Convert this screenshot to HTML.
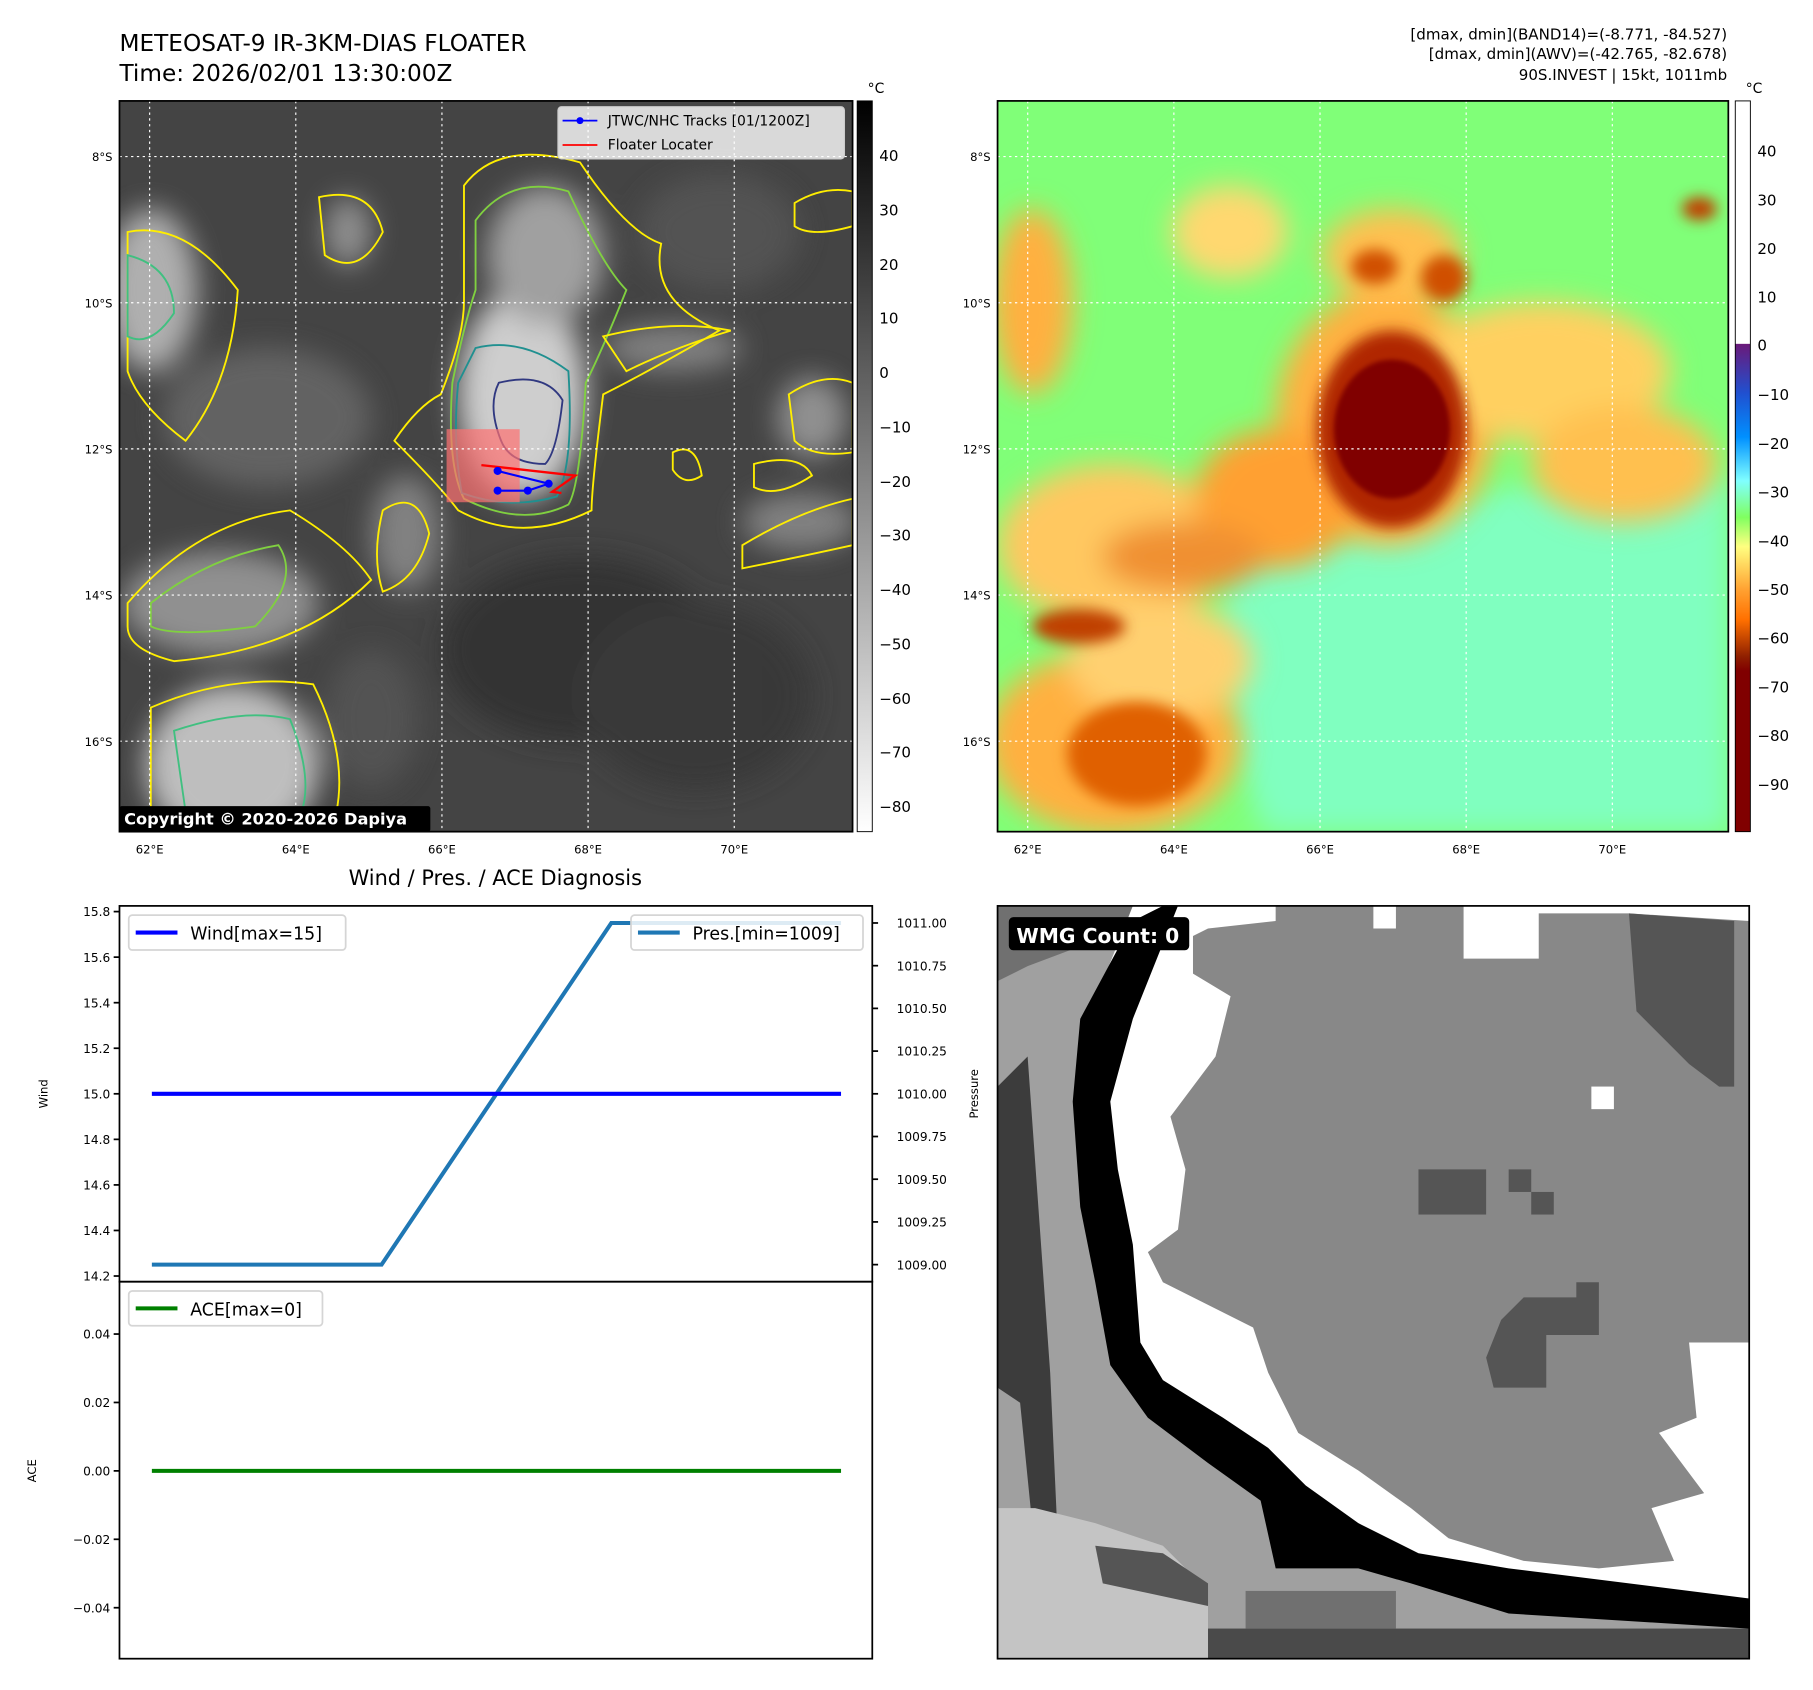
<!DOCTYPE html>
<html><head><meta charset="utf-8"><style>
html,body{margin:0;padding:0;background:#fff;}
svg{display:block;font-family:"DejaVu Sans","Liberation Sans",sans-serif;}
</style></head><body>
<svg id="root" width="1813" height="1690" viewBox="0 0 1563 1457" preserveAspectRatio="none" xmlns="http://www.w3.org/2000/svg">
<defs>
<filter id="b6" x="-50%" y="-50%" width="200%" height="200%"><feGaussianBlur stdDeviation="6"/></filter>
<filter id="b12" x="-50%" y="-50%" width="200%" height="200%"><feGaussianBlur stdDeviation="12"/></filter>
<filter id="b3"><feGaussianBlur stdDeviation="2"/></filter>
<clipPath id="c1"><rect x="103" y="87" width="632" height="630"/></clipPath>
<clipPath id="c2"><rect x="860" y="87" width="630" height="630"/></clipPath>
<linearGradient id="g1" x1="0" y1="0" x2="0" y2="1"><stop offset="0" stop-color="#000"/><stop offset="1" stop-color="#fff"/></linearGradient>
<linearGradient id="g2" x1="0" y1="0" x2="0" y2="1">
<stop offset="0" stop-color="#fff"/><stop offset="0.332" stop-color="#fff"/><stop offset="0.333" stop-color="#6a1a7a"/>
<stop offset="0.40" stop-color="#2050d0"/><stop offset="0.46" stop-color="#0090ff"/><stop offset="0.52" stop-color="#80ffff"/>
<stop offset="0.57" stop-color="#80ff60"/><stop offset="0.61" stop-color="#ffff80"/><stop offset="0.67" stop-color="#ffa030"/>
<stop offset="0.71" stop-color="#ff7000"/><stop offset="0.76" stop-color="#902000"/><stop offset="0.78" stop-color="#800000"/><stop offset="1" stop-color="#800000"/>
</linearGradient>
</defs>

<text x="103" y="44" font-size="20">METEOSAT-9 IR-3KM-DIAS FLOATER</text>
<text x="103" y="70" font-size="20">Time: 2026/02/01 13:30:00Z</text>
<g font-size="13" text-anchor="end">
<text x="1489" y="34">[dmax, dmin](BAND14)=(-8.771, -84.527)</text>
<text x="1489" y="51">[dmax, dmin](AWV)=(-42.765, -82.678)</text>
<text x="1489" y="69">90S.INVEST | 15kt, 1011mb</text>
</g>

<!-- IR map -->
<g clip-path="url(#c1)">
<rect x="103" y="87" width="632" height="630" fill="#444"/>
<g filter="url(#b12)" opacity="0.9">
<ellipse cx="450" cy="340" rx="55" ry="90" fill="#ddd"/>
<ellipse cx="470" cy="220" rx="50" ry="60" fill="#aaa"/>
<ellipse cx="130" cy="250" rx="40" ry="70" fill="#bbb"/>
<ellipse cx="300" cy="200" rx="20" ry="30" fill="#999"/>
<ellipse cx="200" cy="660" rx="75" ry="70" fill="#ccc"/>
<ellipse cx="190" cy="520" rx="85" ry="45" fill="#999"/>
<ellipse cx="580" cy="300" rx="60" ry="20" fill="#888"/>
<ellipse cx="690" cy="450" rx="50" ry="25" fill="#888"/>
<ellipse cx="700" cy="360" rx="30" ry="35" fill="#999"/>
<ellipse cx="230" cy="360" rx="90" ry="60" fill="#666"/>
<ellipse cx="350" cy="460" rx="30" ry="50" fill="#888"/>
<ellipse cx="500" cy="560" rx="120" ry="80" fill="#333"/>
<ellipse cx="600" cy="600" rx="100" ry="80" fill="#383838"/>
<ellipse cx="620" cy="200" rx="70" ry="50" fill="#555"/>
<ellipse cx="320" cy="620" rx="40" ry="60" fill="#555"/>
</g>
<g fill="none" stroke-width="1.6">
<path d="M400,160 Q430,120 500,140 Q540,200 570,210 Q560,260 620,285 Q560,320 520,340 Q510,420 510,440 Q450,470 395,440 Q380,420 340,380 Q360,350 380,340 Q400,290 400,260 Z" stroke="#ffee00"/>
<path d="M410,190 Q440,150 490,165 Q520,230 540,250 Q520,300 505,330 Q500,420 490,435 Q450,455 400,430 Q385,400 390,330 Q400,280 410,250 Z" stroke="#80d040"/>
<path d="M410,300 Q450,290 490,320 Q495,400 480,428 Q440,440 398,425 Q390,380 395,330 Z" stroke="#209090"/>
<path d="M430,330 Q470,320 485,345 Q480,390 470,400 Q440,400 432,380 Q420,350 430,330 Z" stroke="#303880"/>
<path d="M110,200 Q160,190 205,250 Q200,330 160,380 Q120,350 110,320 Z" stroke="#ffee00"/>
<path d="M110,220 Q150,230 150,270 Q130,300 110,290 Z" stroke="#40c080"/>
<path d="M275,170 Q320,160 330,200 Q310,240 280,220 Z" stroke="#ffee00"/>
<path d="M110,520 Q170,450 250,440 Q300,470 320,500 Q260,560 150,570 Q110,560 110,540 Z" stroke="#ffee00"/>
<path d="M130,520 Q180,480 240,470 Q260,500 220,540 Q150,550 130,540 Z" stroke="#80d040"/>
<path d="M130,610 Q200,580 270,590 Q300,650 290,700 L130,700 Z" stroke="#ffee00"/>
<path d="M150,630 Q210,610 250,620 Q270,670 260,700 L160,700 Z" stroke="#40c080"/>
<path d="M640,470 Q690,440 735,430 L735,470 Q690,480 640,490 Z" stroke="#ffee00"/>
<path d="M680,340 Q710,320 735,330 L735,390 Q700,395 685,380 Z" stroke="#ffee00"/>
<path d="M685,175 Q710,160 735,165 L735,195 Q700,205 685,195 Z" stroke="#ffee00"/>
<path d="M330,440 Q360,420 370,460 Q360,500 330,510 Q320,480 330,440 Z" stroke="#ffee00"/>
<path d="M520,290 Q580,275 630,285 Q580,300 540,320 Z" stroke="#ffee00"/>
<path d="M580,390 Q600,380 605,410 Q590,420 580,405 Z" stroke="#ffee00"/>
<path d="M650,400 Q690,390 700,410 Q670,430 650,420 Z" stroke="#ffee00"/>
</g>
<rect x="385" y="370" width="63" height="63" fill="#ff7070" opacity="0.7"/>
<g stroke="#fff" stroke-width="1" stroke-dasharray="2,3">
<line x1="129" y1="87" x2="129" y2="717"/><line x1="255" y1="87" x2="255" y2="717"/><line x1="381" y1="87" x2="381" y2="717"/><line x1="507" y1="87" x2="507" y2="717"/><line x1="633" y1="87" x2="633" y2="717"/>
<line x1="103" y1="135" x2="735" y2="135"/><line x1="103" y1="261" x2="735" y2="261"/><line x1="103" y1="387" x2="735" y2="387"/><line x1="103" y1="513" x2="735" y2="513"/><line x1="103" y1="639" x2="735" y2="639"/>
</g>
<polyline points="415,401 496,410 476,424 484,425" fill="none" stroke="#f00" stroke-width="2"/>
<polyline points="429,406 473,417 455,423 429,423" fill="none" stroke="#00f" stroke-width="1.8"/>
<g fill="#00f"><circle cx="429" cy="406" r="3.5"/><circle cx="473" cy="417" r="3.5"/><circle cx="455" cy="423" r="3.5"/><circle cx="429" cy="423" r="3.5"/></g>
<g>
<rect x="481" y="92" width="247" height="45" rx="3" fill="#fff" fill-opacity="0.8" stroke="#ccc"/>
<line x1="485" y1="104" x2="515" y2="104" stroke="#00f" stroke-width="1.5"/><circle cx="500" cy="104" r="3" fill="#00f"/>
<text x="524" y="108" font-size="12">JTWC/NHC Tracks [01/1200Z]</text>
<line x1="485" y1="125" x2="515" y2="125" stroke="#f00" stroke-width="1.5"/>
<text x="524" y="129" font-size="12">Floater Locater</text>
</g>
<rect x="103" y="695" width="268" height="22" rx="2" fill="#000"/>
<text x="107" y="711" font-size="14" font-weight="bold" fill="#fff">Copyright © 2020-2026 Dapiya</text>
</g>
<rect x="103" y="87" width="632" height="630" fill="none" stroke="#000" stroke-width="1.5"/>
<g font-size="10" text-anchor="middle">
<text x="129" y="736">62°E</text><text x="255" y="736">64°E</text><text x="381" y="736">66°E</text><text x="507" y="736">68°E</text><text x="633" y="736">70°E</text>
<g text-anchor="end"><text x="97" y="139">8°S</text><text x="97" y="265">10°S</text><text x="97" y="391">12°S</text><text x="97" y="517">14°S</text><text x="97" y="643">16°S</text></g>
</g>
<g>
<rect x="739" y="87" width="13" height="630" fill="url(#g1)" stroke="#000" stroke-width="0.8"/>
<text x="748" y="80" font-size="12">°C</text>
<g font-size="13">
<text x="758" y="139">40</text><text x="758" y="186">30</text><text x="758" y="233">20</text><text x="758" y="279">10</text><text x="758" y="326">0</text>
<text x="758" y="373">−10</text><text x="758" y="420">−20</text><text x="758" y="466">−30</text><text x="758" y="513">−40</text><text x="758" y="560">−50</text><text x="758" y="607">−60</text><text x="758" y="653">−70</text><text x="758" y="700">−80</text>
</g></g>

<!-- AWV map -->
<g clip-path="url(#c2)">
<rect x="860" y="87" width="630" height="630" fill="#80ff78"/>
<path d="M1060,470 Q1200,460 1300,420 Q1400,430 1490,410 L1490,717 L1090,717 Q1060,640 1050,560 Z" fill="#80ffc0" filter="url(#b12)"/>
<g filter="url(#b12)">
<ellipse cx="1195" cy="360" rx="95" ry="110" fill="#ffb040"/>
<ellipse cx="960" cy="640" rx="110" ry="80" fill="#ffb040"/>
<ellipse cx="960" cy="470" rx="100" ry="70" fill="#ffc860"/>
<ellipse cx="890" cy="260" rx="35" ry="80" fill="#ffb040"/>
<ellipse cx="1200" cy="220" rx="60" ry="40" fill="#ffc050"/>
<ellipse cx="1330" cy="320" rx="110" ry="60" fill="#ffd060"/>
<ellipse cx="1100" cy="430" rx="70" ry="60" fill="#ffa030"/>
<ellipse cx="1060" cy="200" rx="50" ry="40" fill="#ffd870"/>
<ellipse cx="1400" cy="400" rx="80" ry="50" fill="#ffc050"/>
<ellipse cx="1000" cy="570" rx="80" ry="50" fill="#ffd070"/>
<ellipse cx="1020" cy="480" rx="70" ry="30" fill="#f09030"/>
</g>
<g filter="url(#b6)">
<ellipse cx="1200" cy="370" rx="65" ry="85" fill="#b02800"/>
<ellipse cx="980" cy="650" rx="60" ry="45" fill="#e06000"/>
<ellipse cx="1185" cy="230" rx="20" ry="15" fill="#d05000"/>
<ellipse cx="1245" cy="240" rx="20" ry="20" fill="#d05000"/>
<ellipse cx="930" cy="540" rx="40" ry="15" fill="#c04000"/>
<ellipse cx="1465" cy="180" rx="15" ry="10" fill="#c04000"/>
</g>
<ellipse cx="1200" cy="370" rx="50" ry="60" fill="#800000" filter="url(#b3)"/>
<g stroke="#fff" stroke-width="1" stroke-dasharray="2,3">
<line x1="886" y1="87" x2="886" y2="717"/><line x1="1012" y1="87" x2="1012" y2="717"/><line x1="1138" y1="87" x2="1138" y2="717"/><line x1="1264" y1="87" x2="1264" y2="717"/><line x1="1390" y1="87" x2="1390" y2="717"/>
<line x1="860" y1="135" x2="1490" y2="135"/><line x1="860" y1="261" x2="1490" y2="261"/><line x1="860" y1="387" x2="1490" y2="387"/><line x1="860" y1="513" x2="1490" y2="513"/><line x1="860" y1="639" x2="1490" y2="639"/>
</g>
</g>
<rect x="860" y="87" width="630" height="630" fill="none" stroke="#000" stroke-width="1.5"/>
<g font-size="10" text-anchor="middle">
<text x="886" y="736">62°E</text><text x="1012" y="736">64°E</text><text x="1138" y="736">66°E</text><text x="1264" y="736">68°E</text><text x="1390" y="736">70°E</text>
<g text-anchor="end"><text x="854" y="139">8°S</text><text x="854" y="265">10°S</text><text x="854" y="391">12°S</text><text x="854" y="517">14°S</text><text x="854" y="643">16°S</text></g>
</g>
<g>
<rect x="1496" y="87" width="13" height="630" fill="url(#g2)" stroke="#000" stroke-width="0.8"/>
<text x="1505" y="80" font-size="12">°C</text>
<g font-size="13">
<text x="1515" y="135">40</text><text x="1515" y="177">30</text><text x="1515" y="219">20</text><text x="1515" y="261">10</text><text x="1515" y="302">0</text>
<text x="1515" y="345">−10</text><text x="1515" y="387">−20</text><text x="1515" y="429">−30</text><text x="1515" y="471">−40</text><text x="1515" y="513">−50</text><text x="1515" y="555">−60</text><text x="1515" y="597">−70</text><text x="1515" y="639">−80</text><text x="1515" y="681">−90</text>
</g></g>

<!-- WMG panel -->
<g transform="translate(860,781) scale(6.48,6.49)">
<rect x="0" y="0" width="100" height="100" fill="#a0a0a0"/>
<polygon points="0,24 4,20 7,62 8,84 5,86 3,66 0,64" fill="#3c3c3c"/>
<polygon points="0,0 20,0 20,2 4,8 0,10" fill="#707070"/>
<polygon points="0,80 5,80 13,82 22,85 28,91 28,100 0,100" fill="#c4c4c4"/>
<polygon points="13,85 22,86 28,90 28,93 14,90" fill="#555"/>
<rect x="28" y="96" width="72" height="4" fill="#4a4a4a"/>
<rect x="33" y="91" width="20" height="5" fill="#707070"/>
<polygon points="18,0 100,0 100,93 70,91 56,89 48,86 41,81 36,75 30,71 21,65 17,61 15,46 12,36 14,26 12,15" fill="#fff"/>
<polygon points="28,3 37,2 37,0 50,0 50,3 53,3 53,0 62,0 62,7 72,7 72,1 84,1 100,2 100,58 92,58 93,68 88,70 94,78 87,80 90,87 80,88 70,87 60,84 55,80 48,75 40,70 36,62 34,56 22,50 20,46 24,43 25,35 23,28 29,20 31,12 26,9 26,4" fill="#888"/>
<polygon points="84,1 98,2 98,24 96,24 92,21 89,18 85,14" fill="#555"/>
<rect x="56" y="35" width="9" height="6" fill="#555"/>
<rect x="68" y="35" width="3" height="3" fill="#555"/>
<rect x="71" y="38" width="3" height="3" fill="#555"/>
<polygon points="77,50 80,50 80,57 73,57 73,64 66,64 65,60 67,55 70,52 77,52" fill="#555"/>
<rect x="79" y="24" width="3" height="3" fill="#fff"/>
<polygon points="22,0 24,0 18,15 15,26 16,35 18,45 19,58 22,63 30,68 36,72 41,77 48,82 56,86 68,88 100,92 100,96 68,94 55,90 48,88 37,88 35,79 28,74 20,68 15,61 13,50 11,40 10,26 11,15 18,2" fill="#000"/>
<rect x="1.5" y="1.5" width="24" height="4.4" rx="0.6" fill="#000"/>
<text x="2.5" y="4.9" font-size="2.7" font-weight="bold" fill="#fff">WMG Count: 0</text>
</g>
<rect x="860" y="781" width="648" height="649" fill="none" stroke="#000" stroke-width="1.5"/>

<!-- Diagnosis chart -->
<text x="427" y="763" font-size="18" text-anchor="middle">Wind / Pres. / ACE Diagnosis</text>
<g id="chart"></g>
</svg>
<script>
const times = [0, 1, 2, 3];
const windValues = [15, 15, 15, 15];
const presValues = [1009, 1009, 1011, 1011];
const aceValues = [0, 0, 0, 0];
const windTicks = [14.2, 14.4, 14.6, 14.8, 15.0, 15.2, 15.4, 15.6, 15.8];
const presTicks = [1009.0, 1009.25, 1009.5, 1009.75, 1010.0, 1010.25, 1010.5, 1010.75, 1011.0];
const aceTicks = [0.04, 0.02, 0.0, -0.02, -0.04];

const NS = 'http://www.w3.org/2000/svg';
const chart = document.getElementById('chart');
const L = 103, R = 752, T1 = 781, B1 = 1105, T2 = 1105, B2 = 1430;
const xS = v => L + (v + 0.141) / 3.277 * (R - L);
const wY = v => B1 - (v - 14.175) / 1.65 * (B1 - T1);
const pY = v => B1 - (v - 1008.9) / 2.2 * (B1 - T1);
const aY = v => B2 - (v + 0.0549) / 0.1102 * (B2 - T2);
function mk(tag, attrs, parent) { const e = document.createElementNS(NS, tag); for (const k in attrs) e.setAttribute(k, attrs[k]); (parent || chart).appendChild(e); return e; }
function txt(x, y, s, size, anchor, parent) { const t = mk('text', {x: x, y: y, 'font-size': size, 'text-anchor': anchor || 'start'}, parent); t.textContent = s; return t; }

mk('rect', {x: L, y: T1, width: R - L, height: B1 - T1, fill: '#fff'});
mk('rect', {x: L, y: T2, width: R - L, height: B2 - T2, fill: '#fff'});

windTicks.forEach(v => {
  const y = wY(v);
  const tk = mk('line', {x1: L - 5, y1: y, x2: L, y2: y, stroke: '#000', 'stroke-width': 1.5});
  
  
  const t = txt(L - 8, y + 4, v.toFixed(1), 10.5, 'end');
  
  
});
presTicks.forEach(v => {
  const y = pY(v);
  const tk = mk('line', {x1: R, y1: y, x2: R + 5, y2: y, stroke: '#000', 'stroke-width': 1.5});
  
  
  const t = txt(R + 21, y + 4, v.toFixed(2), 10.5, 'start');
  
  
});
aceTicks.forEach(v => {
  const y = aY(v);
  const tk = mk('line', {x1: L - 5, y1: y, x2: L, y2: y, stroke: '#000', 'stroke-width': 1.5});
  
  
  const t = txt(L - 8, y + 4, (v < 0 ? '\u2212' : '') + Math.abs(v).toFixed(2), 10.5, 'end');
  
  
});
const wl = txt(0, 0, 'Wind', 10, 'middle');
wl.setAttribute('transform', 'translate(41,943) rotate(-90)');


const pl = txt(0, 0, 'Pressure', 10, 'middle');
pl.setAttribute('transform', 'translate(843,943) rotate(-90)');


const al = txt(0, 0, 'ACE', 10, 'middle');
al.setAttribute('transform', 'translate(31,1268) rotate(-90)');



function line(vals, yf, color, name) {
  const p = mk('polyline', {points: times.map((t, i) => xS(t) + ',' + yf(vals[i])).join(' '), fill: 'none', stroke: color, 'stroke-width': 3.5});
  
  
}
line(presValues, pY, '#1f77b4', 'pressure-line');
line(windValues, wY, '#0000ff', 'wind-line');
line(aceValues, aY, '#008000', 'ace-line');

function legend(x, y, w, color, label, name) {
  const g = mk('g', {});
  
  
  mk('rect', {x: x, y: y, width: w, height: 30, rx: 3, fill: '#fff', 'fill-opacity': 0.85, stroke: '#d5d5d5', 'stroke-width': 1.5}, g);
  mk('line', {x1: x + 6, y1: y + 15, x2: x + 42, y2: y + 15, stroke: color, 'stroke-width': 3.5}, g);
  txt(x + 53, y + 21, label, 15, 'start', g);
}
legend(111, 789, 187, '#0000ff', 'Wind[max=15]', 'wind-legend');
legend(544, 789, 200, '#1f77b4', 'Pres.[min=1009]', 'pressure-legend');
legend(111, 1113, 167, '#008000', 'ACE[max=0]', 'ace-legend');

mk('rect', {x: L, y: T1, width: R - L, height: B1 - T1, fill: 'none', stroke: '#000', 'stroke-width': 1.5});
mk('rect', {x: L, y: T2, width: R - L, height: B2 - T2, fill: 'none', stroke: '#000', 'stroke-width': 1.5});
</script>
</body></html>
